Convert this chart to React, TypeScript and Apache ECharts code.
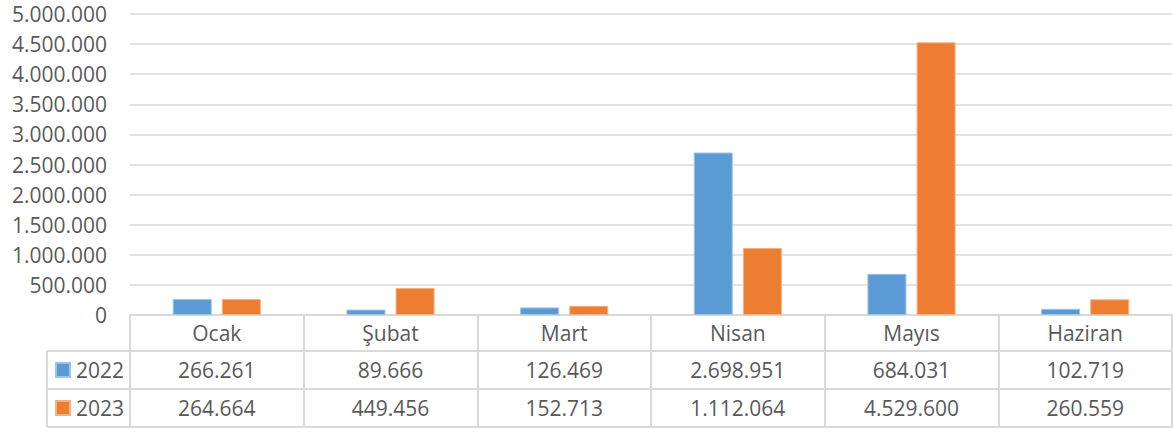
import React, { useEffect, useRef } from "react";
import * as echarts from "echarts";

const categories = ["Ocak", "Şubat", "Mart", "Nisan", "Mayıs", "Haziran"];
const seriesNames = ["2022", "2023"];
const values2022 = [266261, 89666, 126469, 2698951, 684031, 102719];
const values2023 = [264664, 449456, 152713, 1112064, 4529600, 260559];
const yTicks = { min: 0, max: 5000000, interval: 500000 };

const fmt = (v: number) => String(v).replace(/\B(?=(\d{3})+(?!\d))/g, ".");

const FONT = "'Open Sans', sans-serif";
const TEXT = "#595959";
const LINE = "#D9D9D9";
const W = 1173;
const H = 438;
const GRID_LEFT = 130;
const GRID_TOP = 14;
const GRID_BOTTOM_Y = 315;
const ROW1 = 36;
const ROW = 38;
const LEFT_COL = 47;

export default function App() {
  const ref = useRef<HTMLDivElement>(null);
  useEffect(() => {
    document.body.style.margin = "0";
    const chart = echarts.init(ref.current!, null, { renderer: "svg" });
    const tableAxis = (data: string[], offset: number, tickLen: number, show: boolean) => ({
      type: "category",
      data,
      position: "bottom",
      offset,
      gridIndex: 0,
      axisLine: { show: true, lineStyle: { color: LINE, width: 2 } },
      axisTick: { show: tickLen > 0, length: tickLen, alignWithLabel: false, lineStyle: { color: LINE, width: 2 } },
      axisLabel: {
        show,
        interval: 0,
        margin: (tickLen - 21) / 2,
        color: TEXT,
        fontFamily: FONT,
        fontSize: 21,
        lineHeight: 21,
        verticalAlign: "top",
      },
      splitLine: { show: false },
    });
    const row2Y = GRID_BOTTOM_Y + ROW1;
    const row3Y = row2Y + ROW;
    const endY = row3Y + ROW;
    chart.setOption({
      animation: false,
      grid: { left: GRID_LEFT, right: W - 1172, top: GRID_TOP, bottom: H - GRID_BOTTOM_Y, containLabel: false },
      legend: {
        orient: "vertical",
        left: 55,
        top: row2Y + ROW / 2 - 12,
        padding: 0,
        itemGap: ROW - 24,
        itemWidth: 14,
        itemHeight: 14,
        icon: "rect",
        data: seriesNames,
        textStyle: { color: TEXT, fontFamily: FONT, fontSize: 21, lineHeight: 24, padding: [0, 0, 0, 1] },
      },
      xAxis: [
        tableAxis(categories, 0, ROW1, true),
        tableAxis(values2022.map(fmt), ROW1, ROW, true),
        tableAxis(values2023.map(fmt), ROW1 + ROW, ROW, true),
        tableAxis(categories.map(() => ""), ROW1 + 2 * ROW, 0, false),
      ],
      yAxis: {
        type: "value",
        min: yTicks.min,
        max: yTicks.max,
        interval: yTicks.interval,
        axisLine: { show: false },
        axisTick: { show: false },
        splitLine: { lineStyle: { color: LINE, width: 1.5 } },
        axisLabel: {
          margin: 23,
          color: TEXT,
          fontFamily: FONT,
          fontSize: 21,
          formatter: (v: number) => fmt(v),
        },
      },
      series: [
        {
          name: seriesNames[0],
          type: "bar",
          xAxisIndex: 0,
          data: values2022,
          barWidth: 39,
          barGap: "26%",
          itemStyle: { color: "#5B9BD5", borderColor: "#9DC3E6", borderWidth: 1 },
        },
        {
          name: seriesNames[1],
          type: "bar",
          xAxisIndex: 0,
          data: values2023,
          barWidth: 39,
          barGap: "26%",
          itemStyle: { color: "#ED7D31", borderColor: "#F4B183", borderWidth: 1 },
        },
      ],
      graphic: [
        { type: "line", shape: { x1: LEFT_COL, y1: row2Y, x2: GRID_LEFT, y2: row2Y }, style: { stroke: LINE, lineWidth: 2 } },
        { type: "line", shape: { x1: LEFT_COL, y1: row3Y, x2: GRID_LEFT, y2: row3Y }, style: { stroke: LINE, lineWidth: 2 } },
        { type: "line", shape: { x1: LEFT_COL, y1: endY, x2: GRID_LEFT, y2: endY }, style: { stroke: LINE, lineWidth: 2 } },
        { type: "line", shape: { x1: LEFT_COL, y1: row2Y, x2: LEFT_COL, y2: endY }, style: { stroke: LINE, lineWidth: 2 } },
      ],
    });
    return () => chart.dispose();
  }, []);
  return <div ref={ref} style={{ width: W, height: H }} />;
}
